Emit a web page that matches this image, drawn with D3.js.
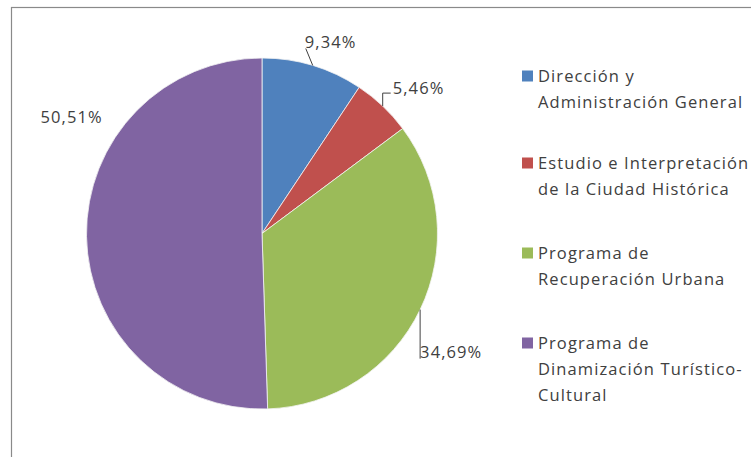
<!DOCTYPE html>
<html><head><meta charset="utf-8">
<script src="https://cdn.jsdelivr.net/npm/d3@7/dist/d3.min.js"></script>
<style>body{margin:0;background:#fff}svg{display:block}</style>
</head><body>
<svg id="c" width="751" height="457"></svg>
<script>
const categories = [
  ["Dirección y", "Administración General"],
  ["Estudio e Interpretación", "de la Ciudad Histórica"],
  ["Programa de", "Recuperación Urbana"],
  ["Programa de", "Dinamización Turístico-", "Cultural"]
];
const values = [9.34, 5.46, 34.69, 50.51];
const valueLabels = ["9,34%", "5,46%", "34,69%", "50,51%"];
const colors = ["#4F81BD", "#C0504D", "#9BBB59", "#8064A2"];

const W = 751, H = 457;
const cx = 262, cy = 233.5, R = 175.5;
const font = "'Open Sans', sans-serif";
const fs = 16.5;
const ls = 1.1;
const textColor = "#404040";

const svg = d3.select("#c");
svg.append("rect").attr("x", 11.5).attr("y", 7.5).attr("width", W).attr("height", H)
  .attr("fill", "#fff").attr("stroke", "#8a8a8a").attr("stroke-width", 1.2);

const pie = d3.pie().sort(null).value(d => d);
const arcs = pie(values);
const arc = d3.arc().innerRadius(0).outerRadius(R);
const g = svg.append("g").attr("transform", `translate(${cx},${cy})`);
g.selectAll("path").data(arcs).join("path")
  .attr("d", arc).attr("fill", (d, i) => colors[i])
  .attr("stroke", "#f4f4f4").attr("stroke-width", 0.8);

// label layout (offsets from slice outer midpoint)
const labelLayout = [
  {dx: -8, dy: -23, lead: [[0,0],[-7,-17]]},
  {dx: 10, dy: -18, lead: [[0,0],[0,-13],[8,-13]]},
  {dx: 0, dy: 43, lead: [[0,0],[0,49]]},
  {dx: -46, dy: -119, lead: null}
];
arcs.forEach((d, i) => {
  const a = (d.startAngle + d.endAngle) / 2;
  const px = cx + R * Math.sin(a), py = cy - R * Math.cos(a);
  const L = labelLayout[i];
  if (L.lead) {
    svg.append("polyline")
      .attr("points", L.lead.map(p => `${px + p[0]},${py + p[1]}`).join(" "))
      .attr("fill", "none").attr("stroke", "#404040").attr("stroke-width", 1);
  }
  svg.append("text").attr("x", px + L.dx).attr("y", py + L.dy)
    .attr("dy", "0.35em").attr("letter-spacing", ls)
    .attr("font-family", font).attr("font-size", fs).attr("fill", textColor)
    .text(valueLabels[i]);
});

// legend
const legY = [76, 163, 253, 343];
const lineH = 26;
const leg = svg.append("g");
categories.forEach((lines, i) => {
  leg.append("rect").attr("x", 522).attr("y", legY[i] - 5.5).attr("width", 11).attr("height", 11)
    .attr("fill", colors[i]);
  lines.forEach((t, j) => {
    leg.append("text").attr("x", 538).attr("y", legY[i] + j * lineH).attr("dy", "0.35em")
      .attr("letter-spacing", ls)
      .attr("font-family", font).attr("font-size", fs).attr("fill", textColor).text(t);
  });
});
</script>
</body></html>
